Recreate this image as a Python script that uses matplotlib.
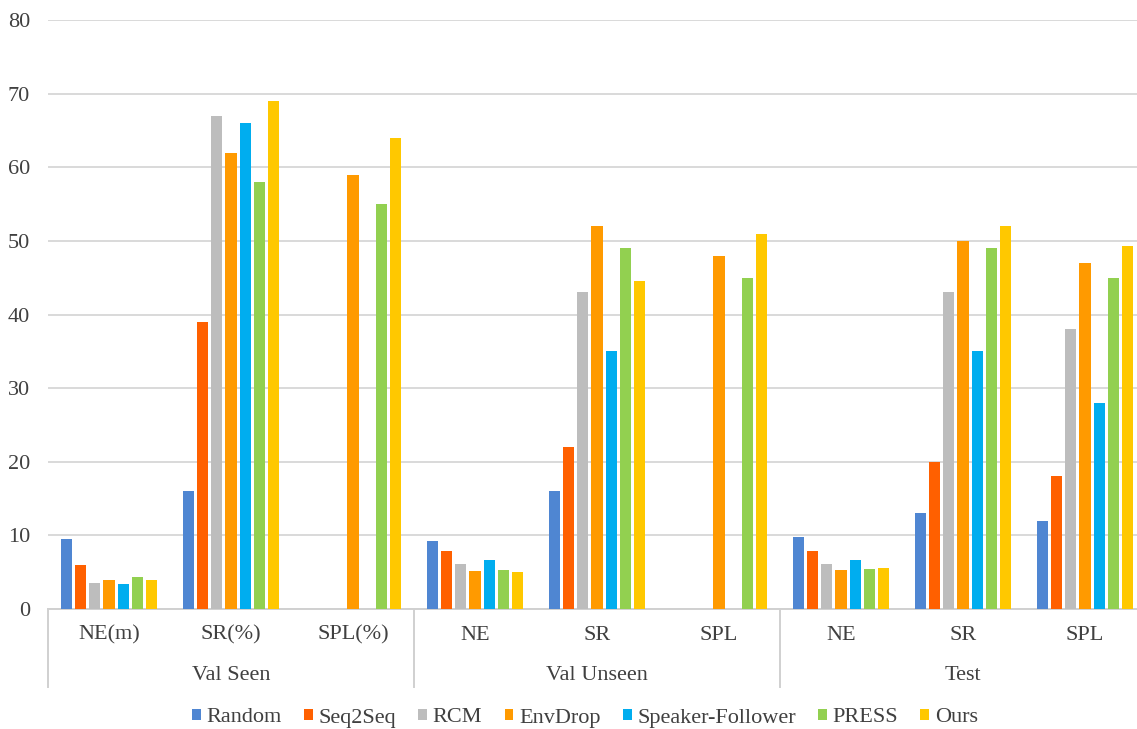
import numpy as np
import matplotlib.pyplot as plt

plt.rcParams['font.family'] = ['Liberation Serif', 'DejaVu Serif']

# metrics per split, in plotting order
categories = ['NE(m)', 'SR(%)', 'SPL(%)', 'NE', 'SR', 'SPL', 'NE', 'SR', 'SPL']
groups = ['Val Seen', 'Val Unseen', 'Test']

methods = ['Random', 'Seq2Seq', 'RCM', 'EnvDrop', 'Speaker-Follower', 'PRESS', 'Ours']
colors = ['#4f86d2', '#ff6000', '#bdbdbd', '#ff9a00', '#00adef', '#92d050', '#ffc800']

# nan = no value reported
nan = np.nan
random_vals   = [9.45, 16, nan, 9.23, 16, nan, 9.79, 13, 12]
seq2seq_vals  = [6.01, 39, nan, 7.81, 22, nan, 7.85, 20, 18]
rcm_vals      = [3.53, 67, nan, 6.09, 43, nan, 6.12, 43, 38]
envdrop_vals  = [3.99, 62, 59, 5.22, 52, 48, 5.23, 50, 47]
speaker_vals  = [3.36, 66, nan, 6.62, 35, nan, 6.62, 35, 28]
press_vals    = [4.36, 58, 55, 5.28, 49, 45, 5.45, 49, 45]
ours_vals     = [3.90, 69, 64, 5.00, 44.6, 51, 5.60, 52, 49.3]

series = [random_vals, seq2seq_vals, rcm_vals, envdrop_vals,
          speaker_vals, press_vals, ours_vals]

fig = plt.figure(figsize=(11.37, 7.29), dpi=100)
# axis runs a little past the right edge of the figure
ax = fig.add_axes([48 / 1137, 1 - 609 / 729, 1098 / 1137, 589 / 729])

x = np.arange(len(categories)) + 0.5
step = 0.117
width = 0.092
for i, (name, vals, c) in enumerate(zip(methods, series, colors)):
    offs = (i - 3) * step
    ax.bar(x + offs, vals, width, color=c, label=name, zorder=3)

ax.set_xlim(0, 9)
ax.set_ylim(0, 80)
ax.set_yticks(range(0, 81, 10))
ax.grid(axis='y', color='#d9d9d9', lw=1.4, zorder=0)
for s in ['top', 'right', 'left']:
    ax.spines[s].set_visible(False)
ax.spines['bottom'].set_color('#d0d0d0')
ax.spines['bottom'].set_linewidth(1.4)
ax.tick_params(axis='y', length=0, labelsize=16, labelcolor='#404040', pad=13)

ax.set_xticks(x)
ax.set_xticklabels(categories, fontsize=16, color='#404040')
ax.tick_params(axis='x', length=0, pad=12)

# group labels and separators below the axis
trans = ax.get_xaxis_transform()
for k, g in enumerate(groups):
    ax.text(3 * k + 1.5, -(675 - 609) / 589, g, transform=trans,
            ha='center', va='center', fontsize=16, color='#404040')
for xs in [0, 3, 6]:
    ax.plot([xs, xs], [0, -(687 - 609) / 589], transform=trans,
            color='#d0d0d0', lw=1.4, clip_on=False)

fig.legend(loc='center', bbox_to_anchor=(585 / 1137, 1 - 718 / 729), ncol=7,
           frameon=False, fontsize=16, handlelength=0.4, handleheight=0.4,
           handletextpad=0.25, columnspacing=1.0, labelcolor='#404040')

fig.savefig('out.png', dpi=100)
